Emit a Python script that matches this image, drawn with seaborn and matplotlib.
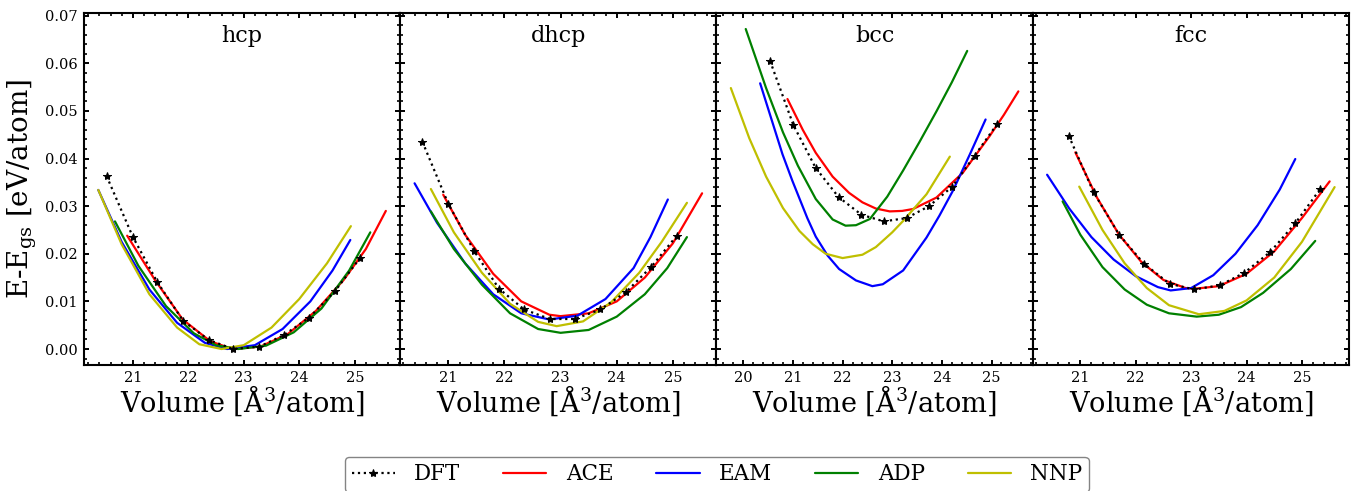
import numpy as np
import pandas as pd
import matplotlib
matplotlib.use("Agg")
import matplotlib.pyplot as plt
from matplotlib.ticker import AutoMinorLocator, MultipleLocator, FormatStrFormatter
import seaborn as sns

structures = ["hcp", "dhcp", "bcc", "fcc"]
models = ["DFT", "ACE", "EAM", "ADP", "NNP"]
colors = {"DFT": "black", "ACE": "#ff0000", "EAM": "#0000ff", "ADP": "#008000", "NNP": "#bfbf00"}

# ---- hcp ----
hcp_dft_v = [20.53, 21.00, 21.44, 21.91, 22.37, 22.81, 23.28, 23.72, 24.18, 24.64, 25.10]
hcp_dft_e = [0.0363, 0.0236, 0.0141, 0.0059, 0.0019, 0.0000, 0.0005, 0.0029, 0.0066, 0.0121, 0.0192]
hcp_ace_v = [20.90, 21.40, 21.90, 22.40, 22.80, 23.30, 23.80, 24.30, 24.80, 25.20, 25.56]
hcp_ace_e = [0.0238, 0.0145, 0.0062, 0.0016, 0.0000, 0.0005, 0.0032, 0.0080, 0.0145, 0.0210, 0.0290]
hcp_eam_v = [20.38, 20.80, 21.30, 21.80, 22.30, 22.70, 23.20, 23.70, 24.20, 24.60, 24.92]
hcp_eam_e = [0.0334, 0.0225, 0.0125, 0.0055, 0.0013, 0.0000, 0.0008, 0.0042, 0.0100, 0.0165, 0.0229]
hcp_adp_v = [20.68, 21.10, 21.60, 22.10, 22.50, 22.90, 23.40, 23.90, 24.40, 24.90, 25.28]
hcp_adp_e = [0.0268, 0.0175, 0.0090, 0.0033, 0.0008, 0.0000, 0.0007, 0.0035, 0.0085, 0.0165, 0.0245]
hcp_nnp_v = [20.38, 20.80, 21.30, 21.80, 22.20, 22.60, 23.00, 23.50, 24.00, 24.50, 24.93]
hcp_nnp_e = [0.0334, 0.0220, 0.0115, 0.0045, 0.0010, 0.0000, 0.0008, 0.0045, 0.0105, 0.0180, 0.0258]

# ---- dhcp ----
dhcp_dft_v = [20.54, 21.00, 21.46, 21.90, 22.35, 22.81, 23.25, 23.71, 24.16, 24.61, 25.07]
dhcp_dft_e = [0.0435, 0.0305, 0.0206, 0.0127, 0.0083, 0.0063, 0.0063, 0.0083, 0.0119, 0.0172, 0.0238]
dhcp_ace_v = [20.91, 21.30, 21.80, 22.30, 22.80, 23.00, 23.50, 24.00, 24.50, 25.00, 25.52]
dhcp_ace_e = [0.0324, 0.0240, 0.0158, 0.0100, 0.0072, 0.0069, 0.0075, 0.0100, 0.0150, 0.0222, 0.0327]
dhcp_eam_v = [20.40, 20.80, 21.30, 21.80, 22.30, 22.80, 23.30, 23.80, 24.30, 24.60, 24.91]
dhcp_eam_e = [0.0348, 0.0265, 0.0180, 0.0115, 0.0075, 0.0062, 0.0070, 0.0105, 0.0170, 0.0235, 0.0314]
dhcp_adp_v = [20.69, 21.10, 21.60, 22.10, 22.60, 23.00, 23.50, 24.00, 24.50, 24.90, 25.25]
dhcp_adp_e = [0.0289, 0.0210, 0.0135, 0.0075, 0.0042, 0.0034, 0.0040, 0.0068, 0.0115, 0.0170, 0.0235]
dhcp_nnp_v = [20.69, 21.10, 21.60, 22.10, 22.60, 22.93, 23.40, 23.90, 24.40, 24.80, 25.25]
dhcp_nnp_e = [0.0336, 0.0245, 0.0160, 0.0095, 0.0057, 0.0048, 0.0058, 0.0098, 0.0160, 0.0225, 0.0307]

# ---- bcc ----
bcc_dft_v = [20.54, 21.01, 21.46, 21.92, 22.38, 22.83, 23.29, 23.74, 24.21, 24.66, 25.11]
bcc_dft_e = [0.0605, 0.0470, 0.0380, 0.0319, 0.0282, 0.0268, 0.0275, 0.0300, 0.0341, 0.0406, 0.0472]
bcc_ace_v = [20.89, 21.20, 21.46, 21.80, 22.13, 22.40, 22.67, 22.95, 23.20, 23.42, 23.89, 24.42, 24.96, 25.25, 25.54]
bcc_ace_e = [0.0525, 0.0460, 0.0412, 0.0362, 0.0328, 0.0308, 0.0295, 0.0289, 0.0290, 0.0294, 0.0318, 0.0370, 0.0447, 0.0492, 0.0541]
bcc_eam_v = [20.34, 20.79, 20.99, 21.29, 21.46, 21.70, 21.93, 22.27, 22.60, 22.81, 23.22, 23.69, 23.95, 24.22, 24.56, 24.88]
bcc_eam_e = [0.0558, 0.0409, 0.0353, 0.0275, 0.0236, 0.0196, 0.0168, 0.0144, 0.0132, 0.0136, 0.0165, 0.0234, 0.0280, 0.0332, 0.0408, 0.0482]
bcc_adp_v = [20.05, 20.46, 20.80, 21.10, 21.46, 21.80, 22.06, 22.27, 22.55, 22.90, 23.22, 23.55, 23.89, 24.20, 24.51]
bcc_adp_e = [0.0672, 0.0548, 0.0455, 0.0385, 0.0315, 0.0272, 0.0259, 0.0260, 0.0273, 0.0320, 0.0375, 0.0435, 0.0499, 0.0560, 0.0626]
bcc_nnp_v = [19.75, 20.12, 20.46, 20.80, 21.13, 21.40, 21.66, 22.00, 22.40, 22.67, 23.00, 23.22, 23.69, 24.16]
bcc_nnp_e = [0.0548, 0.0443, 0.0362, 0.0296, 0.0248, 0.0220, 0.0200, 0.0191, 0.0198, 0.0214, 0.0245, 0.0269, 0.0325, 0.0404]

# ---- fcc ----
fcc_dft_v = [20.79, 21.24, 21.70, 22.15, 22.61, 23.06, 23.52, 23.96, 24.43, 24.88, 25.33]
fcc_dft_e = [0.0448, 0.0329, 0.0240, 0.0179, 0.0137, 0.0125, 0.0134, 0.0160, 0.0204, 0.0264, 0.0336]
fcc_ace_v = [20.91, 21.30, 21.70, 22.10, 22.50, 22.90, 23.10, 23.50, 24.00, 24.50, 25.00, 25.50]
fcc_ace_e = [0.0413, 0.0318, 0.0240, 0.0183, 0.0145, 0.0128, 0.0127, 0.0132, 0.0158, 0.0205, 0.0275, 0.0352]
fcc_eam_v = [20.40, 20.80, 21.20, 21.60, 22.00, 22.40, 22.63, 23.00, 23.40, 23.80, 24.20, 24.60, 24.88]
fcc_eam_e = [0.0366, 0.0295, 0.0235, 0.0188, 0.0153, 0.0130, 0.0123, 0.0128, 0.0155, 0.0200, 0.0260, 0.0335, 0.0399]
fcc_adp_v = [20.68, 21.00, 21.40, 21.80, 22.20, 22.60, 23.10, 23.50, 23.90, 24.30, 24.80, 25.24]
fcc_adp_e = [0.0310, 0.0240, 0.0172, 0.0125, 0.0093, 0.0075, 0.0068, 0.0072, 0.0088, 0.0118, 0.0168, 0.0227]
fcc_nnp_v = [20.98, 21.40, 21.80, 22.20, 22.60, 23.14, 23.60, 24.00, 24.50, 25.00, 25.59]
fcc_nnp_e = [0.0341, 0.0250, 0.0180, 0.0128, 0.0092, 0.0073, 0.0080, 0.0102, 0.0150, 0.0225, 0.0340]

data = {
    "hcp": {"DFT": (hcp_dft_v, hcp_dft_e), "ACE": (hcp_ace_v, hcp_ace_e), "EAM": (hcp_eam_v, hcp_eam_e),
            "ADP": (hcp_adp_v, hcp_adp_e), "NNP": (hcp_nnp_v, hcp_nnp_e)},
    "dhcp": {"DFT": (dhcp_dft_v, dhcp_dft_e), "ACE": (dhcp_ace_v, dhcp_ace_e), "EAM": (dhcp_eam_v, dhcp_eam_e),
             "ADP": (dhcp_adp_v, dhcp_adp_e), "NNP": (dhcp_nnp_v, dhcp_nnp_e)},
    "bcc": {"DFT": (bcc_dft_v, bcc_dft_e), "ACE": (bcc_ace_v, bcc_ace_e), "EAM": (bcc_eam_v, bcc_eam_e),
            "ADP": (bcc_adp_v, bcc_adp_e), "NNP": (bcc_nnp_v, bcc_nnp_e)},
    "fcc": {"DFT": (fcc_dft_v, fcc_dft_e), "ACE": (fcc_ace_v, fcc_ace_e), "EAM": (fcc_eam_v, fcc_eam_e),
            "ADP": (fcc_adp_v, fcc_adp_e), "NNP": (fcc_nnp_v, fcc_nnp_e)},
}

sns.set_style("ticks")
plt.rcParams["font.family"] = ["DejaVu Serif", "DejaVu Sans"]
plt.rcParams["mathtext.fontset"] = "dejavuserif"
for k in ["text.color", "axes.labelcolor", "xtick.color", "ytick.color", "axes.edgecolor"]:
    plt.rcParams[k] = "black"

fig, axes = plt.subplots(1, 4, figsize=(13.54, 4.91), dpi=100, sharey=True)
fig.subplots_adjust(left=0.062, right=0.9963, top=0.9735, bottom=0.2566, wspace=0)

handles = {}
for ax, s in zip(axes, structures):
    for m in ["ACE", "EAM", "ADP", "NNP", "DFT"]:
        v, e = data[s][m]
        df = pd.DataFrame({"v": v, "e": e})
        if m == "DFT":
            sns.lineplot(data=df, x="v", y="e", ax=ax, color="black", linestyle=":",
                         marker="*", markersize=6, markeredgecolor="black",
                         linewidth=1.6, sort=False, estimator=None, label=m, zorder=5)
        else:
            sns.lineplot(data=df, x="v", y="e", ax=ax, color=colors[m], linewidth=1.6,
                         sort=False, estimator=None, label=m)
    h, l = ax.get_legend_handles_labels()
    for hh, ll in zip(h, l):
        handles[ll] = hh
    ax.get_legend().remove()
    ax.text(0.5, 0.935, s, transform=ax.transAxes, ha="center", va="center", fontsize=16)
    ax.set_xlabel("Volume [Å$^3$/atom]", fontsize=19.5, labelpad=-1)
    ax.set_ylabel("")
    ax.xaxis.set_minor_locator(AutoMinorLocator())
    ax.yaxis.set_minor_locator(AutoMinorLocator())
    ax.tick_params(which="both", direction="in", top=True, right=True, bottom=True, left=True,
                   labelsize=10.5, color="black")
    ax.tick_params(which="major", length=3.4, width=1.4, pad=4.5)
    ax.tick_params(which="minor", length=2.0, width=1.2)
    for sp in ax.spines.values():
        sp.set_linewidth(1.5)
        sp.set_color("black")

axes[0].yaxis.set_major_locator(MultipleLocator(0.01))
axes[0].yaxis.set_major_formatter(FormatStrFormatter("%.2f"))
axes[0].set_ylabel("E-E$_{\\rm gs}$ [eV/atom]", fontsize=20)

leg = fig.legend([handles[m] for m in models], models, loc="upper center",
                 bbox_to_anchor=(0.5295, 0.0912), ncol=5, frameon=True,
                 handlelength=2.0, columnspacing=2.0, handletextpad=0.9, borderpad=0.3,
                 prop={"family": "DejaVu Serif", "size": 15.5})
leg.get_frame().set_edgecolor("0.4")
leg.get_frame().set_linewidth(1.0)

fig.savefig("out.png", dpi=100)
